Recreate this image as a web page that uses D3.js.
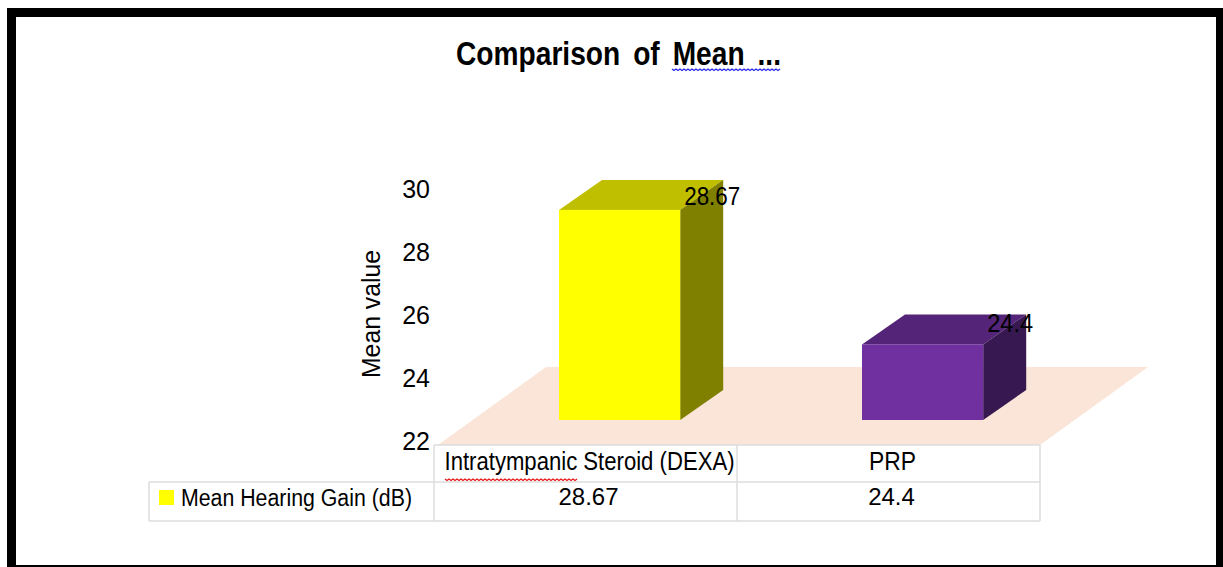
<!DOCTYPE html>
<html>
<head>
<meta charset="utf-8">
<script src="https://cdn.jsdelivr.net/npm/d3@7"></script>
<style>
    html, body { margin: 0; padding: 0; background: #fff; overflow: hidden; }
    svg { display: block; }
    text { font-family: "Liberation Sans", Arial, sans-serif; fill: #000; }
</style>
</head>
<body>
<div id="chart"></div>
<script>
const categories = ["Intratympanic Steroid (DEXA)", "PRP"];
const seriesName = "Mean Hearing Gain (dB)";
const seriesValues = [28.67, 24.4];
const valueLabels = ["28.67", "24.4"];
const yTicks = [22, 24, 26, 28, 30];
const barColors = [
    { front: "#ffff00", top: "#bfbf00", side: "#7f7f00" },
    { front: "#7030a0", top: "#542478", side: "#381850" }
];
const labelNudge = [-14, -21];

const width = 1223, height = 567;
const svg = d3.select("#chart").append("svg").attr("width", width).attr("height", height);

// black frame of the screenshot
svg.append("rect").attr("x", 7).attr("y", 8).attr("width", 1216).attr("height", 559).attr("fill", "#000");
svg.append("rect").attr("x", 16).attr("y", 17).attr("width", 1200).attr("height", 548).attr("fill", "#fff");

const xScale = d3.scaleBand().domain(categories).range([434, 1040]);
const yScale = d3.scaleLinear().domain([22, 30]).range([420, 168]);

const depthX = 43, depthY = -30;
const barW = xScale.bandwidth() * 0.4;
const barShift = 125;
const floorFront = 445;
const poly = pts => pts.map(p => p.join(",")).join(" ");

// floor of the 3d plot
svg.append("polygon")
    .attr("points", poly([[438, floorFront], [1040, floorFront], [1148, 367], [546, 367]]))
    .attr("fill", "#fae5d8");

// bars
categories.forEach((c, i) => {
    const x0 = xScale(c) + barShift, x1 = x0 + barW;
    const yTop = yScale(seriesValues[i]), yBase = yScale(22);
    const col = barColors[i];
    const g = svg.append("g");

    g.append("polygon")
        .attr("points", poly([[x0, yTop], [x1, yTop], [x1 + depthX, yTop + depthY], [x0 + depthX, yTop + depthY]]))
        .attr("fill", col.top);
    g.append("polygon")
        .attr("points", poly([[x1, yTop], [x1 + depthX, yTop + depthY], [x1 + depthX, yBase + depthY], [x1, yBase]]))
        .attr("fill", col.side);
    g.append("rect")
        .attr("x", x0).attr("y", yTop)
        .attr("width", barW).attr("height", yBase - yTop)
        .attr("fill", col.front);

    g.append("text")
        .attr("x", x1 + 4)
        .attr("y", yTop + labelNudge[i] + 9)
        .attr("font-size", 25)
        .attr("textLength", i === 0 ? 56 : 46)
        .attr("lengthAdjust", "spacingAndGlyphs")
        .text(valueLabels[i]);
});

// y axis labels, no line
yTicks.forEach(t => {
    svg.append("text")
        .attr("x", 430)
        .attr("y", yScale(t) + 21)
        .attr("dy", "0.35em")
        .attr("text-anchor", "end")
        .attr("font-size", 25)
        .text(t);
});

svg.append("text")
    .attr("transform", "translate(380, 314) rotate(-90)")
    .attr("text-anchor", "middle")
    .attr("font-size", 26)
    .attr("textLength", 128)
    .attr("lengthAdjust", "spacingAndGlyphs")
    .text("Mean value");

// title
svg.append("text")
    .attr("x", 456).attr("y", 65)
    .attr("font-size", 33).attr("font-weight", "bold")
    .attr("word-spacing", 6)
    .attr("textLength", 325)
    .attr("lengthAdjust", "spacingAndGlyphs")
    .text("Comparison of Mean ...");

// data table
const tableLines = [
    [434, 445, 1040, 445], [149, 482, 1040, 482], [149, 521, 1040, 521],
    [149, 482, 149, 521], [434, 445, 434, 521], [737, 445, 737, 521], [1040, 445, 1040, 521]
];
svg.selectAll("line.table").data(tableLines).enter().append("line")
    .attr("class", "table")
    .attr("x1", d => d[0]).attr("y1", d => d[1])
    .attr("x2", d => d[2]).attr("y2", d => d[3])
    .attr("stroke", "#dcdcdc")
    .attr("stroke-width", 1.5);

categories.forEach((c, i) => {
    svg.append("text")
        .attr("x", xScale(c) + xScale.bandwidth() / 2 + 4)
        .attr("y", 470)
        .attr("text-anchor", "middle")
        .attr("font-size", 25)
        .attr("textLength", i === 0 ? 290 : 47)
        .attr("lengthAdjust", "spacingAndGlyphs")
        .text(c);
    svg.append("text")
        .attr("x", xScale(c) + xScale.bandwidth() / 2 + 3)
        .attr("y", 505)
        .attr("text-anchor", "middle")
        .attr("font-size", 24)
        .text(valueLabels[i]);
});

svg.append("rect").attr("x", 159).attr("y", 490).attr("width", 15).attr("height", 15).attr("fill", barColors[0].front);
svg.append("text")
    .attr("x", 181).attr("y", 506)
    .attr("font-size", 23)
    .attr("textLength", 231)
    .attr("lengthAdjust", "spacingAndGlyphs")
    .text(seriesName);

// spell check squiggles from the word processor
function squiggle(x0, x1, y, color) {
    const pts = d3.range(x0, x1 + 1, 2).map((x, i) => [x, y + (i % 2 ? 1.5 : 0)]);
    svg.append("path")
        .attr("d", d3.line()(pts))
        .attr("fill", "none")
        .attr("stroke", color)
        .attr("stroke-width", 1.3);
}
squiggle(672, 781, 69, "#2a2ae8");
squiggle(445, 578, 479, "#e81818");
</script>
</body>
</html>
